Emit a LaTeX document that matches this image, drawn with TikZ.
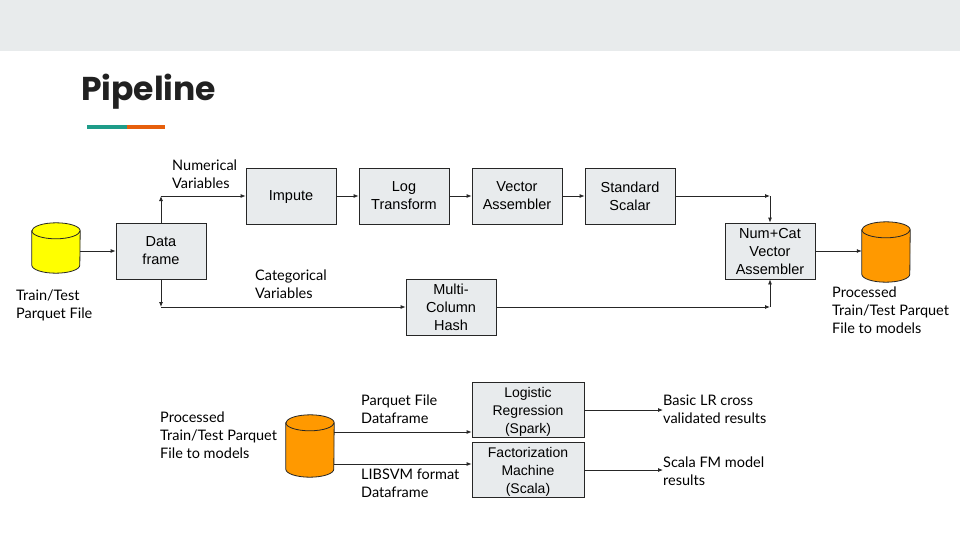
\documentclass[tikz,border=0pt]{standalone}
\usepackage{fontspec}
\setmainfont{Liberation Sans}
\newfontfamily\latofont{Lato}
\newfontfamily\titlefont{Poppins}
\usepackage{tikz}
\usetikzlibrary{arrows.meta}
\usetikzlibrary{positioning}
\definecolor{boxgray}{HTML}{E8EBED}
\definecolor{bandgray}{HTML}{E8EBEC}
\definecolor{barteal}{HTML}{1E9C89}
\definecolor{barorange}{HTML}{E65F0C}
\definecolor{dbyellow}{HTML}{FFFF00}
\definecolor{dborange}{HTML}{FF9900}
\tikzset{
    stage/.style={
        draw=black!85,
        fill=boxgray,
        line width=0.8pt,
        minimum width=90pt,
        minimum height=56pt,
        inner sep=0pt,
        align=center,
        text depth=0pt,
        font=\fontsize{14.5}{18}\selectfont
    },
    db/.style={
        minimum width=48pt,
        minimum height=50pt,
        inner sep=0pt
    },
    dbline/.style={
        draw=black!85,
        line width=0.8pt
    },
    note/.style={
        anchor=west,
        align=left,
        inner sep=0pt,
        font=\latofont\fontsize{14.5}{18}\selectfont
    },
    arr/.style={
        draw=black!85,
        line width=0.8pt,
        -{Latex[length=5pt, width=4pt]}
    }
}
% cylinder drawn round a named node
\newcommand{\dbshape}[2]{%
    \draw[dbline, fill=#2] ([yshift=-8pt]#1.north west) -- ([yshift=8pt]#1.south west)
        arc[start angle=180, end angle=360, x radius=24pt, y radius=8pt]
        -- ([yshift=-8pt]#1.north east)
        arc[start angle=0, end angle=180, x radius=24pt, y radius=8pt] -- cycle;
    \draw[dbline] ([yshift=-8pt]#1.north west)
        arc[start angle=180, end angle=360, x radius=24pt, y radius=8pt];
}

\begin{document}
\begin{tikzpicture}[x=1pt, y=-1pt]
    \useasboundingbox (0,0) rectangle (960,540);
    % header band and title
    \fill[bandgray] (0,0) rectangle (960,51);
    \node[anchor=base west, inner sep=0pt, text=black!87, font=\titlefont\bfseries\fontsize{33}{36}\selectfont] (title) at (81,101) {Pipeline};
    \fill[barteal] (87,125) rectangle (127,129);
    \fill[barorange] (127,125) rectangle (165,129);

    % preprocessing
    \node[db] (raw) at (56,248) {};
    \dbshape{raw}{dbyellow}
    \node[stage] (df) at (161,251) {Data\\frame};
    \node[stage] (impute) at (291,196) {Impute};
    \node[stage] (log) at (404,196) {Log\\Transform};
    \node[stage] (vec) at (517,196) {Vector\\Assembler};
    \node[stage] (std) at (630,196) {Standard\\Scalar};
    \node[stage] (hash) at (451,307) {Multi-\\Column\\Hash};
    \node[stage] (numcat) at (770,251) {Num+Cat\\Vector\\Assembler};
    \node[db, minimum height=60pt] (out) at (886,252) {};
    \dbshape{out}{dborange}

    \node[note] (rawlbl) at (16,305) {Train/Test\\Parquet File};
    \node[note] (numlbl) at (172,174) {Numerical\\Variables};
    \node[note] (catlbl) at (255,284) {Categorical\\Variables};
    \node[note] (outlbl) at (832,310) {Processed\\Train/Test Parquet\\File to models};

    \coordinate (up) at (df.north |- impute.west);
    \coordinate (down) at (df.south |- hash.west);
    \coordinate (jtop) at (numcat.north |- std.east);
    \coordinate (jbot) at (numcat.south |- hash.east);

    \draw[arr] (raw.east |- df.west) -- (df.west);
    \draw[arr] (df.north) -- (up);
    \draw[arr] (up) -- (impute.west);
    \draw[arr] (df.south) -- (down);
    \draw[arr] (down) -- (hash.west);
    \draw[arr] (impute) -- (log);
    \draw[arr] (log) -- (vec);
    \draw[arr] (vec) -- (std);
    \draw[arr] (std.east) -- (jtop);
    \draw[arr] (jtop) -- (numcat.north);
    \draw[arr] (hash.east) -- (jbot);
    \draw[arr] (jbot) -- (numcat.south);
    \draw[arr] (numcat.east) -- (out.west |- numcat.east);

    % models
    \node[db, minimum height=62pt] (proc) at (310,446) {};
    \dbshape{proc}{dborange}
    \node[stage, minimum width=112pt, minimum height=55pt, font=\fontsize{14}{18}\selectfont] (lr) at (528,410) {Logistic\\Regression\\(Spark)};
    \node[stage, minimum width=112pt, minimum height=55pt, font=\fontsize{14}{18}\selectfont] (fm) at (528,470) {Factorization\\Machine\\(Scala)};

    \node[note] (proclbl) at (160,435) {Processed\\Train/Test Parquet\\File to models};
    \node[note] (pqlbl) at (361,409) {Parquet File\\Dataframe};
    \node[note] (svmlbl) at (361,483) {LIBSVM format\\Dataframe};
    \node[note] (lrres) at (663,409) {Basic LR cross\\validated results};
    \node[note] (fmres) at (663,471) {Scala FM model\\results};

    \coordinate (p1) at ([yshift=14pt]proc.east);
    \coordinate (p2) at ([yshift=-18pt]proc.east);
    \draw[arr] (p1) -- (p1 -| lr.west);
    \draw[arr] (p2) -- (p2 -| fm.west);
    \draw[arr] (lr.east) -- (lrres.west |- lr.east);
    \draw[arr] (fm.east) -- (fmres.west |- fm.east);
\end{tikzpicture}
\end{document}
